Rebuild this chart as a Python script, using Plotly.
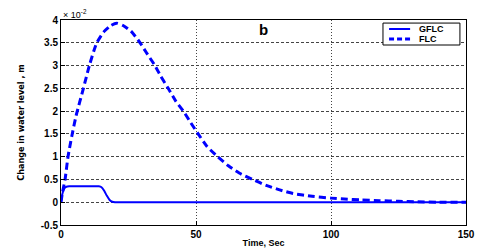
import plotly.graph_objects as go

# Data (values in units of 1e-2 m)
t_flc = [0, 0.5, 1.5, 2.6, 4, 5.6, 8.3, 10.5, 13.2, 16, 18.5, 20.6, 23, 26, 29.3, 32, 34.8, 37, 39.7, 42.5,
         45.3, 48, 50.8, 54, 58, 62, 66, 71, 76, 81, 86, 93, 100, 105, 111, 118, 125, 132, 140, 150]
v_flc = [0, 0.2, 0.5, 1.0, 1.45, 1.9, 2.5, 3.0, 3.49, 3.75, 3.88, 3.93, 3.88, 3.75, 3.5, 3.25, 3.0, 2.76, 2.5, 2.22,
         2.0, 1.75, 1.5, 1.23, 1.0, 0.8, 0.64, 0.5, 0.37, 0.27, 0.19, 0.13, 0.09, 0.07, 0.05, 0.035, 0.02, 0.01, 0.0, 0.0]

t_gflc = [0, 0.5, 1, 1.5, 2, 3, 8, 14, 15, 16, 17, 18, 19, 20, 22, 150]
v_gflc = [0, 0.18, 0.27, 0.32, 0.34, 0.35, 0.35, 0.35, 0.33, 0.25, 0.14, 0.05, 0.01, 0.0, 0.0, 0.0]

y_ticks = [-0.5, 0, 0.5, 1, 1.5, 2, 2.5, 3, 3.5, 4]
y_tick_text = ["-0.5", "0", "0.5", "1", "1.5", "2", "2.5", "3", "3.5", "4"]
x_ticks = [0, 50, 100, 150]
x_tick_text = ["0", "50", "100", "150"]
series_names = ["GFLC", "FLC"]

font_main = "Liberation Sans"
BLUE = "#0000ff"

fig = go.Figure()
fig.add_trace(go.Scatter(x=t_gflc, y=v_gflc, mode="lines", name=series_names[0],
                         line=dict(color=BLUE, width=2, shape="spline", smoothing=0.6)))
fig.add_trace(go.Scatter(x=t_flc, y=v_flc, mode="lines", name=series_names[1],
                         line=dict(color=BLUE, width=3, dash="7px,4px", shape="spline", smoothing=0.6)))

fig.update_layout(
    width=480, height=252,
    margin=dict(l=61, r=14, t=20, b=27),
    paper_bgcolor="white", plot_bgcolor="white",
    font=dict(family=font_main, size=10, color="black"),
    showlegend=False,
    xaxis=dict(range=[0, 150], tickvals=x_ticks, ticktext=x_tick_text,
               showline=True, mirror=True, linecolor="black", linewidth=1,
               ticks="inside", ticklen=4, tickcolor="black",
               showgrid=True, gridcolor="#444", griddash="1px,2px", gridwidth=1,
               zeroline=False, automargin=False,
               tickfont=dict(family=font_main, size=10, weight="bold"),
               title=dict(text="Time, Sec", standoff=0,
                          font=dict(family=font_main, size=9, weight="bold"))),
    yaxis=dict(range=[-0.5, 4], tickvals=y_ticks, ticktext=y_tick_text,
               showline=True, mirror=True, linecolor="black", linewidth=1,
               ticks="inside", ticklen=4, tickcolor="black",
               showgrid=True, gridcolor="#444", griddash="3px,2px", gridwidth=1,
               zeroline=False, automargin=False,
               tickfont=dict(family=font_main, size=10, weight="bold"),
               title=dict(text="Change in water level , m", standoff=14,
                          font=dict(family="DejaVu Sans Condensed", size=9, weight="bold"))),
)

# exponent label and panel letter
fig.add_annotation(text="× 10<sup>-2</sup>", xref="paper", yref="paper", x=0.0, y=1.0,
                   xanchor="left", yanchor="bottom", showarrow=False,
                   font=dict(family=font_main, size=9, color="black"), yshift=-2)
fig.add_annotation(text="<b>b</b>", xref="paper", yref="paper", x=0.5, y=0.955,
                   xanchor="center", yanchor="middle", showarrow=False,
                   font=dict(family=font_main, size=15, color="black"))

# MATLAB-style legend box
fig.add_shape(type="rect", xref="paper", yref="paper", x0=0.795, x1=0.985, y0=0.878, y1=0.985,
              line=dict(color="black", width=1), fillcolor="white", layer="above")
legend_rows = [0.956, 0.907]
legend_dash = ["solid", "5px,3px"]
legend_width = [2, 3]
for name, yy, dsh, w in zip(series_names, legend_rows, legend_dash, legend_width):
    fig.add_shape(type="line", xref="paper", yref="paper", x0=0.810, x1=0.862, y0=yy, y1=yy,
                  line=dict(color=BLUE, width=w, dash=dsh), layer="above")
    fig.add_annotation(text="<b>" + name + "</b>", xref="paper", yref="paper", x=0.880, y=yy,
                       xanchor="left", yanchor="middle", showarrow=False,
                       font=dict(family=font_main, size=9, color="black"))

fig.write_html("out.html", config={"displayModeBar": False},
               post_script="document.body.style.margin='0';")
